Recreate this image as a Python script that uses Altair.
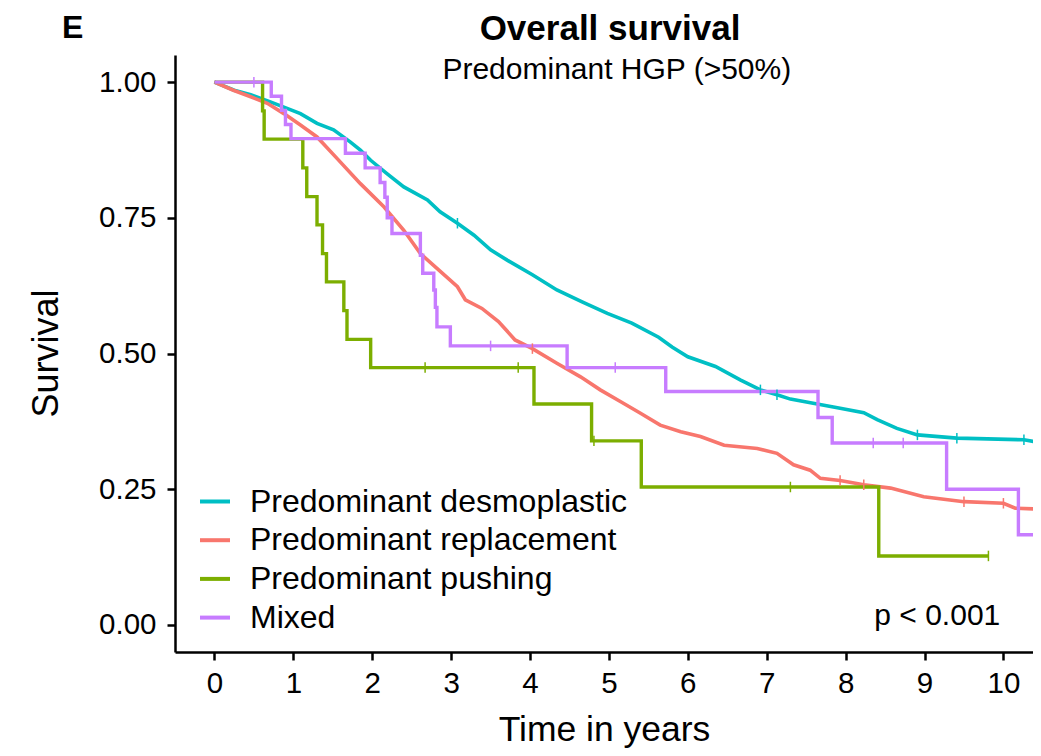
import altair as alt
import pandas as pd

groups = ["Predominant desmoplastic", "Predominant replacement", "Predominant pushing", "Mixed"]
colors = ["#00BFC4", "#F8766D", "#7CAE00", "#C77CFF"]

# Predominant desmoplastic (dense curve, read points)
desmo_t = [0, 0.25, 0.46, 0.70, 0.88, 1.09, 1.30, 1.51, 1.72, 1.85, 1.98, 2.19, 2.40, 2.70,
           2.86, 3.08, 3.29, 3.50, 3.71, 4.03, 4.34, 4.66, 4.98, 5.29, 5.63, 5.80, 6.00, 6.35,
           6.67, 6.92, 7.13, 7.30, 7.64, 7.93, 8.23, 8.40, 8.65, 8.91, 9.41, 10.26, 10.50]
desmo_s = [1.0, 0.985, 0.977, 0.964, 0.954, 0.942, 0.924, 0.912, 0.890, 0.875, 0.856, 0.831, 0.807, 0.783,
           0.761, 0.740, 0.718, 0.691, 0.672, 0.645, 0.617, 0.595, 0.574, 0.556, 0.530, 0.512, 0.494, 0.476,
           0.451, 0.433, 0.424, 0.416, 0.407, 0.399, 0.391, 0.378, 0.362, 0.350, 0.344, 0.341, 0.335]

# Predominant replacement (dense curve, read points)
repl_t = [0, 0.24, 0.46, 0.67, 0.88, 1.09, 1.30, 1.55, 1.85, 2.15, 2.40, 2.61, 2.82, 3.08, 3.18,
          3.39, 3.60, 3.81, 4.03, 4.34, 4.64, 4.89, 5.15, 5.40, 5.65, 5.91, 6.16, 6.46, 6.88, 7.13,
          7.34, 7.55, 7.68, 7.93, 8.23, 8.57, 8.99, 9.50, 10.0, 10.15, 10.50]
repl_s = [1.0, 0.985, 0.973, 0.961, 0.942, 0.921, 0.899, 0.860, 0.813, 0.770, 0.727, 0.684, 0.657, 0.623, 0.599,
          0.583, 0.559, 0.525, 0.509, 0.482, 0.457, 0.433, 0.411, 0.390, 0.368, 0.356, 0.347, 0.331, 0.325, 0.316,
          0.295, 0.285, 0.270, 0.266, 0.258, 0.252, 0.236, 0.227, 0.224, 0.215, 0.213]

# Predominant pushing (step function)
push_t = [0, 0.61, 0.63, 1.12, 1.17, 1.30, 1.37, 1.42, 1.64, 1.68, 1.98, 4.05, 4.78, 5.41, 8.42, 9.81]
push_s = [1.0, 0.947, 0.895, 0.842, 0.789, 0.737, 0.684, 0.632, 0.579, 0.526, 0.474, 0.407, 0.339, 0.254, 0.127, 0.127]

# Mixed (step function)
mixed_t = [0, 0.72, 0.85, 0.90, 0.97, 1.66, 1.91, 2.10, 2.16, 2.19, 2.25, 2.61, 2.64, 2.78, 2.80, 2.82,
           2.99, 4.47, 5.72, 7.65, 7.83, 9.28, 10.19, 10.50]
mixed_s = [1.0, 0.974, 0.948, 0.922, 0.896, 0.869, 0.842, 0.815, 0.788, 0.750, 0.721, 0.681, 0.648, 0.617, 0.585, 0.549,
           0.514, 0.474, 0.430, 0.382, 0.335, 0.250, 0.166, 0.166]

# censoring marks
cens_group = (["Predominant desmoplastic"] * 6 + ["Predominant replacement"] * 5
              + ["Predominant pushing"] * 5 + ["Mixed"] * 5)
cens_t = [3.08, 6.92, 7.13, 8.91, 9.41, 10.26,
          4.03, 7.93, 8.23, 9.50, 10.0,
          2.67, 3.85, 4.81, 7.30, 9.81,
          0.50, 3.50, 5.08, 8.35, 8.73]
cens_s = [0.740, 0.433, 0.424, 0.350, 0.344, 0.341,
          0.509, 0.266, 0.258, 0.227, 0.224,
          0.474, 0.474, 0.339, 0.254, 0.127,
          1.0, 0.514, 0.474, 0.335, 0.335]

smooth = pd.DataFrame({
    "t": desmo_t + repl_t,
    "s": desmo_s + repl_s,
    "group": [groups[0]] * len(desmo_t) + [groups[1]] * len(repl_t),
})
steps = pd.DataFrame({
    "t": push_t + mixed_t,
    "s": push_s + mixed_s,
    "group": [groups[2]] * len(push_t) + [groups[3]] * len(mixed_t),
})
cens = pd.DataFrame({"t": cens_t, "s": cens_s, "group": cens_group})

FONT = "Liberation Sans"
W, H = 858, 597

xscale = alt.Scale(domain=[-0.5, 10.375], nice=False, zero=False)
yscale = alt.Scale(domain=[-0.05, 1.05], nice=False, zero=False)
cscale = alt.Scale(domain=groups, range=colors)

xaxis = alt.Axis(values=list(range(0, 11)), format="d", title="Time in years", titleFontSize=35.5,
                 titleFontWeight="normal", titleY=88, titleX=429,
                 titleBaseline="alphabetic", labelFontSize=29.5, labelPadding=9, grid=False)
yaxis = alt.Axis(values=[0, 0.25, 0.5, 0.75, 1.0], format=".2f", title="Survival",
                 titleFontSize=36, titleFontWeight="normal", titleX=-118, titleY=298,
                 titleAngle=270, titleAlign="center", titleBaseline="alphabetic",
                 labelFontSize=29.5, labelPadding=11, grid=False)

legend = alt.Legend(title=None, orient="none", legendX=23, legendY=429.5, symbolType="stroke",
                    symbolSize=900, symbolStrokeWidth=4, labelFontSize=32, labelFont=FONT,
                    labelColor="black", labelOffset=18, rowPadding=5.7, padding=0, labelLimit=600)

lines_smooth = alt.Chart(smooth).mark_line(strokeWidth=3.6, clip=True).encode(
    x=alt.X("t:Q", scale=xscale, axis=xaxis),
    y=alt.Y("s:Q", scale=yscale, axis=yaxis),
    color=alt.Color("group:N", scale=cscale, legend=legend),
)
lines_step = alt.Chart(steps).mark_line(strokeWidth=3.4, interpolate="step-after", clip=True).encode(
    x="t:Q", y="s:Q",
    color=alt.Color("group:N", scale=cscale, legend=None),
)
ticks = alt.Chart(cens).mark_point(shape="stroke", angle=90, size=110, strokeWidth=1.5,
                                   filled=False, opacity=1, clip=True).encode(
    x="t:Q", y="s:Q",
    color=alt.Color("group:N", scale=cscale, legend=None),
)

title_df = pd.DataFrame({"label": ["Overall survival"]})
title = alt.Chart(title_df).mark_text(x=435, y=-15.5, align="center",
                                      baseline="alphabetic", fontSize=35, fontWeight="bold",
                                      font=FONT, color="black").encode(text="label:N")
panel_df = pd.DataFrame({"label": ["E"]})
panel = alt.Chart(panel_df).mark_text(x=-113, y=-17.5, align="left", baseline="alphabetic",
                                      fontSize=32, fontWeight="bold", font=FONT,
                                      color="black").encode(text="label:N")

sub_df = pd.DataFrame({"label": ["Predominant HGP (>50%)"], "t": [5.1], "s": [1.006]})
subtitle = alt.Chart(sub_df).mark_text(align="center", baseline="alphabetic", fontSize=30,
                                       font=FONT, color="black").encode(
    x="t:Q", y="s:Q", text="label:N")
p_df = pd.DataFrame({"label": ["p < 0.001"], "t": [9.96], "s": [0.0]})
ptext = alt.Chart(p_df).mark_text(align="right", baseline="alphabetic", fontSize=30,
                                  font=FONT, color="black").encode(
    x="t:Q", y="s:Q", text="label:N")

chart = alt.layer(lines_smooth, lines_step, ticks, subtitle, ptext, title, panel).properties(
    width=W, height=H,
    autosize=alt.AutoSizeParams(type="none"),
    padding={"left": 167, "top": 47, "right": 0, "bottom": 96},
).configure(font=FONT).configure_view(strokeWidth=0).configure_axis(
    domainColor="black", domainWidth=2.5, tickColor="black", tickWidth=2.5, tickSize=8,
    labelColor="black", labelFont=FONT, titleFont=FONT, titleColor="black",
)

chart.save("out.html", embed_options={"renderer": "svg", "actions": False})
